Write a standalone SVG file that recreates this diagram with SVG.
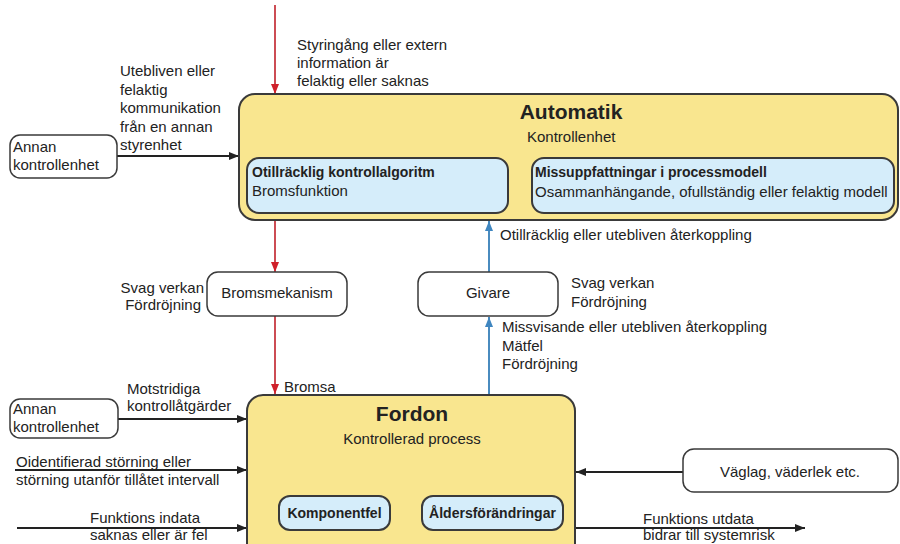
<svg xmlns="http://www.w3.org/2000/svg" width="900" height="544" viewBox="0 0 900 544">
<defs>
<style>
text{font-family:"Liberation Sans",Arial,sans-serif;font-size:15px;fill:#222}
.b{font-weight:bold;font-size:14px}
.t{font-weight:bold;font-size:21px}
.mid{text-anchor:middle}
.end{text-anchor:end}
.yel{fill:#F9E68F;stroke:#3a3a3a;stroke-width:2}
.blu{fill:#D5EDFA;stroke:#3a3a3a;stroke-width:2}
.wht{fill:#fff;stroke:#3a3a3a;stroke-width:1.5}
.k{stroke:#222;stroke-width:2;fill:none}
.r{stroke:#C0202A;stroke-width:1.6;fill:none}
.bl{stroke:#4A8BBF;stroke-width:2;fill:none}
</style>
<marker id="mk" markerWidth="10" markerHeight="8" refX="10" refY="4" orient="auto" markerUnits="userSpaceOnUse"><path d="M0,0 L10,4 L0,8 Z" fill="#222"/></marker>
<marker id="mr" markerWidth="10" markerHeight="8" refX="10" refY="4" orient="auto" markerUnits="userSpaceOnUse"><path d="M0,0 L10,4 L0,8 Z" fill="#D0202A"/></marker>
<marker id="mb" markerWidth="10" markerHeight="8" refX="10" refY="4" orient="auto" markerUnits="userSpaceOnUse"><path d="M0,0 L10,4 L0,8 Z" fill="#3F86C0"/></marker>
</defs>
<rect width="900" height="544" fill="#fff"/>

<g id="connectors">
<path class="r" d="M275,5 V94" marker-end="url(#mr)"/>
<path class="r" d="M275,221 V272" marker-end="url(#mr)"/>
<path class="r" d="M275,316 V394" marker-end="url(#mr)"/>
<path class="bl" d="M489,395 V317" marker-end="url(#mb)"/>
<path class="bl" d="M489,272 V221" marker-end="url(#mb)"/>
<path class="k" d="M117,156 H239" marker-end="url(#mk)"/>
<path class="k" d="M118,419 H247" marker-end="url(#mk)"/>
<path class="k" d="M15,470 H247" marker-end="url(#mk)"/>
<path class="k" d="M17,528 H247" marker-end="url(#mk)"/>
<path class="k" d="M683,472 H576" marker-end="url(#mk)"/>
<path class="k" d="M575,528 H805" marker-end="url(#mk)"/>
</g>

<g id="labels">
<text x="297" y="50">Styringång eller extern</text>
<text x="297" y="68">information är</text>
<text x="297" y="86">felaktig eller saknas</text>
<text x="120" y="76">Utebliven eller</text>
<text x="120" y="94.5">felaktig</text>
<text x="120" y="113">kommunikation</text>
<text x="120" y="131.5">från en annan</text>
<text x="120" y="150">styrenhet</text>
<text class="end" x="204" y="293">Svag verkan</text>
<text class="end" x="201" y="310">Fördröjning</text>
<text x="500" y="240">Otillräcklig eller utebliven återkoppling</text>
<text x="571" y="288">Svag verkan</text>
<text x="571" y="307">Fördröjning</text>
<text x="502" y="332">Missvisande eller utebliven återkoppling</text>
<text x="502" y="351">Mätfel</text>
<text x="502" y="369">Fördröjning</text>
<text x="284" y="392">Bromsa</text>
<text x="127" y="394">Motstridiga</text>
<text x="127" y="411">kontrollåtgärder</text>
<text x="16" y="467">Oidentifierad störning eller</text>
<text x="16" y="485">störning utanför tillåtet intervall</text>
<text x="90" y="523">Funktions indata</text>
<text x="90" y="540">saknas eller är fel</text>
<text x="643" y="524">Funktions utdata</text>
<text x="643" y="540">bidrar till systemrisk</text>
</g>

<g id="automatik">
<rect class="yel" x="239" y="94" width="659" height="126" rx="16"/>
<text class="t mid" x="571" y="119">Automatik</text>
<text x="527" y="142">Kontrollenhet</text>
</g>
<g id="otillracklig">
<rect class="blu" x="247" y="158" width="261" height="55" rx="12"/>
<text class="b" x="252" y="177">Otillräcklig kontrollalgoritm</text>
<text x="252" y="196">Bromsfunktion</text>
</g>
<g id="missuppfattningar">
<rect class="blu" x="532" y="158" width="362" height="55" rx="12"/>
<text class="b" x="535" y="177">Missuppfattningar i processmodell</text>
<text x="535" y="197">Osammanhängande, ofullständig eller felaktig modell</text>
</g>
<g id="annan1">
<rect class="wht" x="10" y="135" width="107" height="43" rx="10"/>
<text x="13" y="152">Annan</text>
<text x="13" y="170">kontrollenhet</text>
</g>
<g id="bromsmekanism">
<rect class="wht" x="207" y="272" width="140" height="44" rx="11"/>
<text class="mid" x="277" y="298">Bromsmekanism</text>
</g>
<g id="givare">
<rect class="wht" x="418" y="272" width="140" height="44" rx="11"/>
<text class="mid" x="488" y="298">Givare</text>
</g>
<g id="fordon">
<rect class="yel" x="247" y="395" width="328" height="165" rx="16"/>
<text class="t mid" x="412" y="421">Fordon</text>
<text class="mid" x="412" y="444">Kontrollerad process</text>
</g>
<g id="komponentfel">
<rect class="blu" x="279" y="496" width="111" height="34" rx="11"/>
<text class="b mid" x="334.5" y="518">Komponentfel</text>
</g>
<g id="aldersforandringar">
<rect class="blu" x="422" y="496" width="141" height="34" rx="11"/>
<text class="b mid" x="492.5" y="518">Åldersförändringar</text>
</g>
<g id="annan2">
<rect class="wht" x="10" y="399" width="108" height="39" rx="10"/>
<text x="13" y="414">Annan</text>
<text x="13" y="432">kontrollenhet</text>
</g>
<g id="vaglag">
<rect class="wht" x="683" y="449" width="215" height="43" rx="11"/>
<text class="mid" x="790" y="477">Väglag, väderlek etc.</text>
</g>
</svg>
